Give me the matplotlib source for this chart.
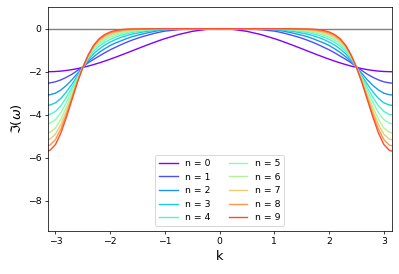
import numpy as np
import matplotlib
matplotlib.use("Agg")
import matplotlib.pyplot as plt

# ------------------------------------
# Data (k >= 0 half; curves are even in k)
# ------------------------------------
k_half = [0.0, 0.25, 0.5, 0.75, 1.0, 1.1, 1.2, 1.3, 1.4, 1.5, 1.6, 1.7, 1.8,
          1.9, 2.0, 2.1, 2.2, 2.3, 2.4, 2.5, 2.6, 2.7, 2.8, 2.9, 3.0, 3.1, np.pi]

im_n0 = [0.0, -0.031, -0.122, -0.268, -0.460, -0.546, -0.638, -0.733, -0.830,
         -0.929, -1.029, -1.129, -1.227, -1.323, -1.416, -1.505, -1.589, -1.666,
         -1.737, -1.801, -1.857, -1.904, -1.942, -1.971, -1.990, -1.999, -2.0]
im_n1 = [0.0, 0.0, -0.01, -0.04, -0.11, -0.16, -0.22, -0.29, -0.36, -0.44,
         -0.53, -0.63, -0.74, -0.86, -0.98, -1.12, -1.27, -1.42, -1.58, -1.77,
         -1.95, -2.12, -2.26, -2.38, -2.47, -2.52, -2.53]
im_n2 = [0.0, 0.0, 0.0, -0.01, -0.05, -0.08, -0.13, -0.18, -0.24, -0.30,
         -0.37, -0.46, -0.56, -0.66, -0.78, -0.93, -1.10, -1.30, -1.52, -1.80,
         -2.09, -2.38, -2.64, -2.85, -3.00, -3.07, -3.08]
im_n3 = [0.0, 0.0, 0.0, -0.005, -0.03, -0.05, -0.08, -0.11, -0.15, -0.20,
         -0.25, -0.32, -0.40, -0.50, -0.62, -0.76, -0.94, -1.16, -1.44, -1.80,
         -2.20, -2.59, -2.94, -3.24, -3.45, -3.55, -3.56]
im_n4 = [0.0, 0.0, 0.0, 0.0, -0.02, -0.03, -0.05, -0.07, -0.10, -0.13,
         -0.17, -0.23, -0.30, -0.39, -0.50, -0.63, -0.81, -1.04, -1.36, -1.80,
         -2.27, -2.75, -3.20, -3.58, -3.85, -3.99, -4.0]
im_n5 = [0.0, 0.0, 0.0, 0.0, -0.01, -0.02, -0.03, -0.04, -0.06, -0.09,
         -0.12, -0.17, -0.23, -0.31, -0.40, -0.53, -0.71, -0.96, -1.31, -1.79,
         -2.33, -2.90, -3.43, -3.90, -4.23, -4.40, -4.42]
im_n6 = [0.0, 0.0, 0.0, 0.0, -0.005, -0.01, -0.02, -0.03, -0.04, -0.06,
         -0.08, -0.12, -0.17, -0.24, -0.32, -0.45, -0.63, -0.90, -1.28, -1.79,
         -2.39, -3.04, -3.66, -4.21, -4.62, -4.82, -4.84]
im_n7 = [0.0, 0.0, 0.0, 0.0, 0.0, -0.005, -0.01, -0.02, -0.03, -0.04,
         -0.05, -0.08, -0.12, -0.18, -0.26, -0.38, -0.57, -0.85, -1.26, -1.79,
         -2.44, -3.14, -3.84, -4.45, -4.91, -5.14, -5.16]
im_n8 = [0.0, 0.0, 0.0, 0.0, 0.0, 0.0, -0.005, -0.01, -0.01, -0.02,
         -0.03, -0.05, -0.08, -0.13, -0.20, -0.32, -0.51, -0.80, -1.24, -1.79,
         -2.47, -3.23, -3.99, -4.66, -5.16, -5.42, -5.44]
im_n9 = [0.0, 0.0, 0.0, 0.0, 0.0, 0.0, 0.0, 0.0, -0.005, -0.01,
         -0.01, -0.02, -0.04, -0.08, -0.15, -0.27, -0.46, -0.76, -1.21, -1.80,
         -2.51, -3.32, -4.12, -4.85, -5.39, -5.66, -5.69]

curves = [im_n0, im_n1, im_n2, im_n3, im_n4, im_n5, im_n6, im_n7, im_n8, im_n9]
labels = [f"n = {i}" for i in range(len(curves))]

# mirror the half curves onto negative k
k_half = np.array(k_half)
k_full = np.concatenate([-k_half[:0:-1], k_half])

# ------------------------------------
# Figure Setup
# ------------------------------------
fig = plt.figure(figsize=(399 / 66.5, 274 / 66.5), dpi=66.5)
ax = fig.add_axes([0.1195, 0.158, 0.862, 0.8155])

ax.axhline(0, color="gray", linewidth=1.5, zorder=1)

for i, (vals, lab) in enumerate(zip(curves, labels)):
    vals = np.array(vals)
    full = np.concatenate([vals[:0:-1], vals])
    ax.plot(k_full, full, color=plt.cm.rainbow(i / 10), linewidth=1.5,
            label=lab, zorder=2)

ax.set_xlim(-np.pi, np.pi)
ax.set_ylim(-9.4, 1.0)
ax.set_xticks([-3, -2, -1, 0, 1, 2, 3])
ax.set_yticks([0, -2, -4, -6, -8])
ax.set_xlabel("k", fontsize=14)
ax.set_ylabel(r"$\Im(\omega)$", fontsize=14)
ax.legend(loc="lower center", ncol=2)

fig.savefig("out.png", dpi=66.5)
